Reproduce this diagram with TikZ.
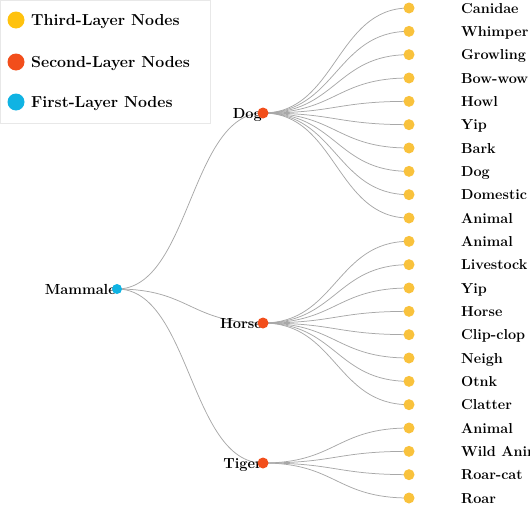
\documentclass[tikz,border=0pt]{standalone}
\usetikzlibrary{positioning}
\definecolor{leafc}{HTML}{F9C23C}
\definecolor{goldc}{HTML}{FFC20E}
\definecolor{midc}{HTML}{F24E1B}
\definecolor{rootc}{HTML}{10B3E3}
\definecolor{linkc}{HTML}{A8A8A8}
\pgfdeclarelayer{bg}
\pgfsetlayers{bg,main}
\begin{document}
\begin{tikzpicture}[x=1pt,y=-1pt,
  link/.style={draw=linkc,line width=0.75pt},
  dot/.style={circle,fill=#1,inner sep=0pt,minimum size=11pt},
  leaftext/.style={anchor=base west,inner sep=0pt,yshift=-5pt,font=\fontsize{14.4}{16}\selectfont\bfseries},
  midtext/.style={anchor=base east,inner sep=0pt,xshift=-1pt,yshift=-5pt,font=\fontsize{14.6}{16}\selectfont\bfseries},
  keytext/.style={anchor=base west,inner sep=0pt,yshift=-5.4pt,font=\fontsize{15.9}{18}\selectfont\bfseries}]
\useasboundingbox (0,0) rectangle (530,506);
\clip (0,0) rectangle (530,506);
\pgfmathsetmacro{\dy}{490/21}
% first and second layer
\node[midtext] (roottext) at (117,289) {Mammale};
\node[dot=rootc,minimum size=10pt] (root) at (117,289) {};
\node[midtext] (dogtext) at (263,113) {Dog};
\node[dot=midc] (dog) at (263,113) {};
\node[midtext] (horsetext) at (263,323) {Horse};
\node[dot=midc] (horse) at (263,323) {};
\node[midtext] (tigertext) at (263,463) {Tiger};
\node[dot=midc] (tiger) at (263,463) {};
\begin{pgfonlayer}{bg}
\foreach \p in {dog,horse,tiger}
  \draw[link](root.center)..controls +(73,0) and +(-73,0)..(\p.center);
\end{pgfonlayer}
% third layer
\foreach \t [count=\i from 0] in {Canidae,Whimper,Growling,Bow-wow,Howl,Yip,Bark,Dog,Domestic,Animal}{
  \pgfmathsetmacro{\yy}{8+\i*\dy}
  \node[dot=leafc] (dogleaf\i) at (409,\yy) {};
  \node[leaftext] (dogword\i) at (461,\yy) {\t};
  \begin{pgfonlayer}{bg}
  \draw[link](dog.center)..controls +(73,0) and +(-73,0)..(dogleaf\i.center);
  \end{pgfonlayer}
}
\foreach \t [count=\i from 0] in {Animal,Livestock,Yip,Horse,Clip-clop,Neigh,Otnk,Clatter}{
  \pgfmathsetmacro{\yy}{8+(10+\i)*\dy}
  \node[dot=leafc] (horseleaf\i) at (409,\yy) {};
  \node[leaftext] (horseword\i) at (461,\yy) {\t};
  \begin{pgfonlayer}{bg}
  \draw[link](horse.center)..controls +(73,0) and +(-73,0)..(horseleaf\i.center);
  \end{pgfonlayer}
}
\foreach \t [count=\i from 0] in {Animal,Wild Animal,Roar-cat,Roar}{
  \pgfmathsetmacro{\yy}{8+(18+\i)*\dy}
  \node[dot=leafc] (tigerleaf\i) at (409,\yy) {};
  \node[leaftext] (tigerword\i) at (461,\yy) {\t};
  \begin{pgfonlayer}{bg}
  \draw[link](tiger.center)..controls +(73,0) and +(-73,0)..(tigerleaf\i.center);
  \end{pgfonlayer}
}
% legend
\draw[draw=black!9,fill=white,line width=0.8pt](0.5,0.5)rectangle(210,123);
\node[dot=goldc,minimum size=17pt] (key3) at (16,20) {};
\node[keytext] (key3text) at (31,20) {Third-Layer Nodes};
\node[dot=midc,minimum size=17pt] (key2) at (16,62) {};
\node[keytext] (key2text) at (31,62) {Second-Layer Nodes};
\node[dot=rootc,minimum size=17pt] (key1) at (16,102) {};
\node[keytext] (key1text) at (31,102) {First-Layer Nodes};
\end{tikzpicture}
\end{document}
